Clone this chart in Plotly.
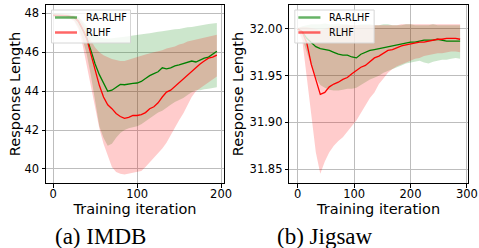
import plotly.graph_objects as go

# ---------------- data ----------------
series_names = ["RA-RLHF", "RLHF"]
panel_captions = ["(a) IMDB", "(b) Jigsaw"]
x_title = "Training iteration"
y_title = "Response Length"

imdb_iter = list(range(0, 200, 5))
imdb_ra_mean = [47.90, 47.90, 47.88, 47.88, 47.85, 47.80, 47.60, 47.20, 46.75, 46.10,
                45.40, 44.85, 44.40, 44.00, 44.05, 44.20, 44.35, 44.33, 44.38, 44.40,
                44.42, 44.50, 44.65, 44.80, 44.90, 45.00, 45.20, 45.15, 45.20, 45.30,
                45.35, 45.42, 45.45, 45.55, 45.50, 45.60, 45.70, 45.75, 45.90, 46.05]
imdb_ra_low = [47.80, 47.80, 47.78, 47.78, 47.75, 47.65, 47.30, 46.70, 45.90, 44.80,
               43.60, 42.20, 41.60, 41.20, 41.30, 41.60, 41.85, 42.00, 42.10, 42.15,
               42.20, 42.30, 42.45, 42.60, 42.75, 42.90, 43.00, 43.15, 43.30, 43.45,
               43.55, 43.65, 43.80, 43.95, 44.05, 44.05, 44.10, 44.12, 44.15, 44.20]
imdb_ra_up = [48.00, 48.00, 47.98, 47.97, 47.95, 47.92, 47.82, 47.62, 47.35, 47.10,
              46.90, 46.78, 46.72, 46.70, 46.72, 46.75, 46.78, 46.80, 46.82, 46.86,
              46.90, 46.92, 46.95, 46.98, 47.00, 47.05, 47.08, 47.12, 47.15, 47.18,
              47.20, 47.25, 47.28, 47.30, 47.35, 47.38, 47.42, 47.45, 47.48, 47.50]
imdb_rl_mean = [47.90, 47.90, 47.88, 47.88, 47.85, 47.80, 47.60, 47.20, 46.70, 45.90,
                45.00, 44.30, 43.70, 43.30, 43.10, 42.85, 42.70, 42.60, 42.65, 42.75,
                42.75, 42.80, 42.90, 43.10, 43.20, 43.40, 43.70, 43.95, 44.05, 44.25,
                44.45, 44.65, 44.80, 45.00, 45.20, 45.40, 45.55, 45.70, 45.75, 45.85]
imdb_rl_low = [47.80, 47.80, 47.78, 47.76, 47.72, 47.60, 47.20, 46.40, 45.50, 44.40,
               43.20, 42.10, 41.30, 40.70, 40.10, 39.85, 39.75, 39.72, 39.78, 39.80,
               39.85, 39.90, 40.10, 40.30, 40.55, 40.80, 41.05, 41.35, 41.70, 42.10,
               42.50, 42.85, 43.25, 43.70, 44.00, 44.15, 44.30, 44.45, 44.60, 44.75]
imdb_rl_up = [47.98, 47.98, 47.96, 47.95, 47.93, 47.88, 47.75, 47.50, 47.05, 46.60,
              46.25, 46.00, 45.85, 45.75, 45.65, 45.60, 45.55, 45.55, 45.62, 45.70,
              45.78, 45.82, 45.88, 45.95, 46.00, 46.05, 46.10, 46.20, 46.25, 46.30,
              46.40, 46.45, 46.55, 46.60, 46.65, 46.72, 46.78, 46.82, 46.86, 46.90]

jig_iter = list(range(0, 289, 8))
jig_ra_mean = [32.000, 31.997, 31.990, 31.985, 31.981, 31.979, 31.978, 31.977, 31.975, 31.973,
               31.972, 31.972, 31.970, 31.969, 31.973, 31.975, 31.977, 31.978, 31.979, 31.980,
               31.981, 31.982, 31.983, 31.984, 31.985, 31.986, 31.986, 31.987, 31.988, 31.988,
               31.988, 31.989, 31.988, 31.987, 31.987, 31.987, 31.987]
jig_ra_low = [31.999, 31.990, 31.975, 31.960, 31.948, 31.940, 31.937, 31.935, 31.934, 31.934,
              31.935, 31.936, 31.936, 31.937, 31.940, 31.943, 31.946, 31.948, 31.950, 31.953,
              31.955, 31.957, 31.959, 31.961, 31.963, 31.964, 31.965, 31.966, 31.964, 31.963,
              31.965, 31.966, 31.967, 31.967, 31.968, 31.969, 31.968]
jig_ra_up = [32.001, 32.003, 32.004, 32.005, 32.005, 32.005, 32.006, 32.005, 32.005, 32.006,
             32.005, 32.005, 32.004, 32.004, 32.005, 32.005, 32.005, 32.004, 32.004, 32.005,
             32.005, 32.004, 32.004, 32.004, 32.005, 32.005, 32.004, 32.004, 32.004, 32.004,
             32.005, 32.004, 32.004, 32.004, 32.004, 32.004, 32.004]
jig_rl_mean = [32.000, 31.997, 31.985, 31.962, 31.946, 31.930, 31.932, 31.938, 31.941, 31.943,
               31.946, 31.948, 31.952, 31.956, 31.959, 31.961, 31.965, 31.969, 31.971, 31.974,
               31.977, 31.978, 31.980, 31.982, 31.983, 31.984, 31.985, 31.986, 31.986, 31.987,
               31.988, 31.989, 31.989, 31.990, 31.990, 31.990, 31.989]
jig_rl_low = [31.999, 31.988, 31.948, 31.908, 31.868, 31.845, 31.858, 31.868, 31.875, 31.880,
              31.884, 31.890, 31.896, 31.902, 31.910, 31.918, 31.926, 31.932, 31.941, 31.947,
              31.953, 31.957, 31.960, 31.962, 31.964, 31.966, 31.968, 31.969, 31.971, 31.972,
              31.973, 31.974, 31.974, 31.975, 31.976, 31.976, 31.975]
jig_rl_up = [32.001, 32.002, 32.002, 32.001, 32.000, 31.999, 32.000, 32.002, 32.003, 32.003,
             32.004, 32.004, 32.004, 32.004, 32.004, 32.004, 32.004, 32.004, 32.004, 32.004,
             32.004, 32.004, 32.004, 32.005, 32.005, 32.005, 32.005, 32.005, 32.005, 32.005,
             32.005, 32.005, 32.005, 32.005, 32.005, 32.005, 32.005]

imdb_xticks = [0, 100, 200]
imdb_yticks = [40, 42, 44, 46, 48]
jig_xticks = [0, 100, 200, 300]
jig_yticks = [31.85, 31.90, 31.95, 32.00]

# ---------------- styling ----------------
W, H = 479, 248
ML, MR, MT, MB = 46, 11, 5, 65
PW = W - ML - MR          # 422
PH = H - MT - MB          # 178
AXW = 178                 # width of each panel in px

line_colors = ["rgb(0,128,0)", "rgb(255,0,0)"]
fill_colors = ["rgba(0,128,0,0.2)", "rgba(255,0,0,0.2)"]
legend_colors = ["rgba(0,128,0,0.6)", "rgba(255,0,0,0.6)"]
FONT = "DejaVu Sans"

panels = [
    dict(x=imdb_iter, xa="x", ya="y",
         series=[(imdb_ra_low, imdb_ra_mean, imdb_ra_up), (imdb_rl_low, imdb_rl_mean, imdb_rl_up)]),
    dict(x=jig_iter, xa="x2", ya="y2",
         series=[(jig_ra_low, jig_ra_mean, jig_ra_up), (jig_rl_low, jig_rl_mean, jig_rl_up)]),
]

fig = go.Figure()
for p in panels:
    for (lo, mean, up), fc in zip(p["series"], fill_colors):
        fig.add_trace(go.Scatter(
            x=p["x"] + p["x"][::-1], y=up + lo[::-1], fill="toself", fillcolor=fc,
            mode="lines", line=dict(width=0), hoverinfo="skip", showlegend=False,
            xaxis=p["xa"], yaxis=p["ya"]))
    for (lo, mean, up), lc, name in zip(p["series"], line_colors, series_names):
        fig.add_trace(go.Scatter(
            x=p["x"], y=mean, mode="lines", name=name, line=dict(color=lc, width=1.3),
            showlegend=False, xaxis=p["xa"], yaxis=p["ya"]))

axis_common = dict(
    showgrid=True, gridcolor="#bdbdbd", gridwidth=1, zeroline=False, automargin=False,
    showline=True, mirror=True, linecolor="black", linewidth=1,
    ticks="outside", ticklen=3.5, tickwidth=1, tickcolor="black",
    tickfont=dict(family=FONT, size=11.5, color="black"),
)
title_font = dict(family=FONT, size=14.5, color="black")

x2_start = (289.3 - ML) / PW

fig.update_layout(
    template="none",
    width=W, height=H, margin=dict(l=ML, r=MR, t=MT, b=MB, autoexpand=False),
    paper_bgcolor="white", plot_bgcolor="white",
    xaxis=dict(domain=[0, AXW / PW], range=[-8.5, 203.5], tickvals=imdb_xticks, anchor="y",
               ticklabelstandoff=-3,
               title=dict(text=x_title, font=title_font, standoff=2), **axis_common),
    yaxis=dict(domain=[0, 1], range=[39.28, 48.43], tickvals=imdb_yticks, anchor="x",
               title=dict(text=y_title, font=title_font, standoff=0), **axis_common),
    xaxis2=dict(domain=[x2_start, 1], range=[-15, 302], tickvals=jig_xticks, anchor="y2",
                ticklabelstandoff=-3,
                title=dict(text=x_title, font=title_font, standoff=2), **axis_common),
    yaxis2=dict(domain=[0, 1], range=[31.835, 32.0257], tickvals=jig_yticks, tickformat=".2f",
                anchor="x2", title=dict(text=y_title, font=title_font, standoff=2), **axis_common),
)

# legends (drawn inside each panel, upper left)
shapes, annots = [], []
for p in panels:
    xr, yr = p["xa"] + " domain", p["ya"] + " domain"
    bx0, by0, bw, bh = 5.5, 5.0, 79, 33
    shapes.append(dict(type="rect", xref=xr, yref=yr, layer="above",
                       x0=bx0 / AXW, x1=(bx0 + bw) / AXW,
                       y0=1 - (by0 + bh) / PH, y1=1 - by0 / PH,
                       fillcolor="rgba(255,255,255,0.8)", line=dict(color="#d6d6d6", width=1)))
    for i, (name, lcol) in enumerate(zip(series_names, legend_colors)):
        yy = 1 - (by0 + 7.5 + 15 * i) / PH
        shapes.append(dict(type="line", xref=xr, yref=yr, layer="above",
                           x0=(bx0 + 3.5) / AXW, x1=(bx0 + 25.5) / AXW, y0=yy, y1=yy,
                           line=dict(color=lcol, width=2.5)))
        annots.append(dict(text=name, xref=xr, yref=yr, x=(bx0 + 32.5) / AXW, y=yy,
                           xanchor="left", yanchor="middle", showarrow=False,
                           font=dict(family=FONT, size=9.6, color="black")))

for cap, cx in zip(panel_captions, [100.5, 325]):
    annots.append(dict(text=cap, xref="paper", yref="paper", x=(cx - ML) / PW,
                       y=(MT + PH - 236) / PH,
                       xanchor="center", yanchor="middle", showarrow=False,
                       font=dict(family="Liberation Serif", size=23, color="black")))

fig.update_layout(shapes=shapes, annotations=annots)
fig.write_html("out.html", config={"displayModeBar": False},
               post_script="document.body.style.margin='0';document.body.style.overflow='hidden';")
